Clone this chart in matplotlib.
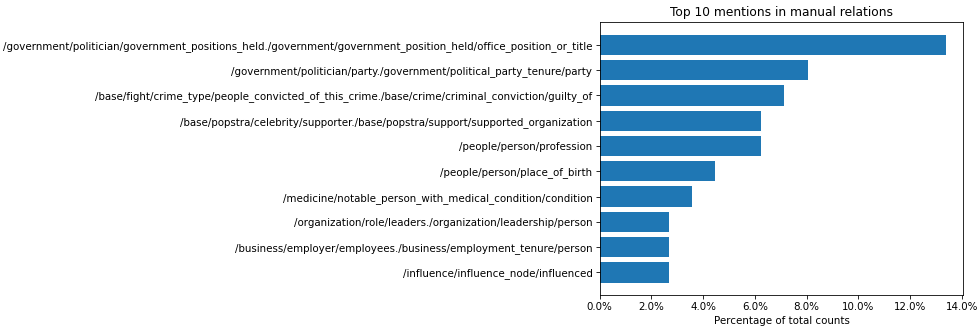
import matplotlib
matplotlib.use("Agg")
import matplotlib.pyplot as plt
from matplotlib.ticker import PercentFormatter

relations = [
    "/government/politician/government_positions_held./government/government_position_held/office_position_or_title",
    "/government/politician/party./government/political_party_tenure/party",
    "/base/fight/crime_type/people_convicted_of_this_crime./base/crime/criminal_conviction/guilty_of",
    "/base/popstra/celebrity/supporter./base/popstra/support/supported_organization",
    "/people/person/profession",
    "/people/person/place_of_birth",
    "/medicine/notable_person_with_medical_condition/condition",
    "/organization/role/leaders./organization/leadership/person",
    "/business/employer/employees./business/employment_tenure/person",
    "/influence/influence_node/influenced",
]
percentages = [13.39, 8.04, 7.14, 6.25, 6.25, 4.46, 3.57, 2.68, 2.68, 2.68]

DPI = 73.5
fig = plt.figure(figsize=(979 / DPI, 329 / DPI), dpi=DPI)
ax = fig.add_axes([0.6124, 0.1033, 0.3717, 0.8290])
ax.barh(relations[::-1], percentages[::-1], color="#1f77b4")
ax.xaxis.set_major_formatter(PercentFormatter(decimals=1))
ax.set_xlabel("Percentage of total counts")
ax.set_title("Top 10 mentions in manual relations")
fig.savefig("out.png", dpi=DPI)
